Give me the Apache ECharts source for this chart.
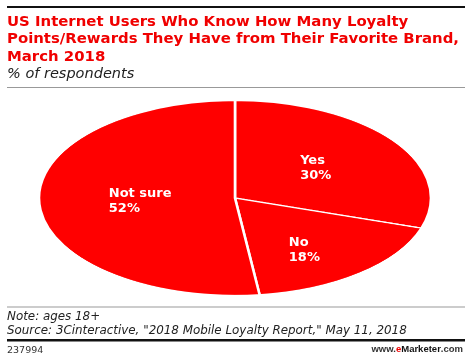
<!DOCTYPE html>
<html><head><meta charset="utf-8">
<script src="https://cdn.jsdelivr.net/npm/echarts@6/dist/echarts.min.js"></script>
<style>
html,body{margin:0;padding:0;background:#fff;}
#wrap{position:relative;width:470px;height:362px;overflow:hidden;background:#fff;}
#pie{position:absolute;left:0;top:0;width:470px;height:396px;transform-origin:235px 198px;transform:scaleY(0.4974);}
#main{position:absolute;left:0;top:0;width:470px;height:362px;}
</style></head><body>
<div id="wrap"><div id="pie"></div><div id="main"></div></div>
<script>
// ---- data ----
const categories = ['Yes', 'No', 'Not sure'];
const values = [30, 18, 52];
const titleLines = [
  'US Internet Users Who Know How Many Loyalty',
  'Points/Rewards They Have from Their Favorite Brand,',
  'March 2018'
];
const subtitle = '% of respondents';
const noteLines = [
  'Note: ages 18+',
  'Source: 3Cinteractive, "2018 Mobile Loyalty Report," May 11, 2018'
];
const chartId = '237994';

// ---- layout constants ----
const FONT = 'DejaVu Sans';
const LOGO_FONT = 'Liberation Sans';
const CX = 235, CY = 198, R = 196;
const SQUASH = 0.4974;
const labelNudge = [[-1, 0], [5, 13], [6, 0]];

const pieData = categories.map((c, i) => ({ name: c, value: values[i] }));

// Elliptical pie (circle squashed by CSS)
const pieChart = echarts.init(document.getElementById('pie'), null, { renderer: 'canvas' });
pieChart.setOption({
  animation: false,
  series: [{
    type: 'pie',
    center: [CX, CY],
    radius: [0, R],
    startAngle: 90,
    clockwise: true,
    silent: true,
    label: { show: false },
    labelLine: { show: false },
    itemStyle: { color: '#ff0000', borderColor: '#ffffff', borderWidth: 2.6 },
    data: pieData
  }]
});

// Texts, rules and slice labels
const main = echarts.init(document.getElementById('main'), null, { renderer: 'canvas' });
main.setOption({
  animation: false,
  title: [
    {
      text: titleLines.join('\n'), left: 7, top: 13, padding: 0,
      textStyle: { color: '#f00000', fontSize: 14.9, fontWeight: 'bold', lineHeight: 17.5, fontFamily: FONT }
    },
    {
      text: subtitle, left: 7, top: 67, padding: 0,
      textStyle: { color: '#222', fontSize: 14.5, fontWeight: 'normal', fontStyle: 'italic', lineHeight: 15, fontFamily: FONT }
    },
    {
      text: noteLines.join('\n'), left: 7, top: 310, padding: 0,
      textStyle: { color: '#222', fontSize: 11.9, fontWeight: 'normal', fontStyle: 'italic', lineHeight: 14, fontFamily: FONT }
    },
    {
      text: chartId, left: 7, top: 344.5, padding: 0,
      textStyle: { color: '#333', fontSize: 9.5, fontWeight: 'normal', lineHeight: 12, fontFamily: FONT }
    },
    {
      text: '{a|www.}{b|e}{c|Marketer}{a|.com}', right: 7, top: 343.5, padding: 0,
      textStyle: {
        fontFamily: LOGO_FONT, fontSize: 9.5, lineHeight: 12,
        rich: {
          a: { color: '#333', fontSize: 9.5, fontFamily: LOGO_FONT, lineHeight: 12 },
          b: { color: '#f00000', fontSize: 9.5, fontWeight: 'bold', fontFamily: LOGO_FONT, lineHeight: 12 },
          c: { color: '#111', fontSize: 9.5, fontWeight: 'bold', fontFamily: LOGO_FONT, lineHeight: 12 }
        }
      }
    }
  ],
  graphic: [
    { type: 'rect', silent: true, shape: { x: 7, y: 6, width: 458, height: 2 }, style: { fill: '#111' } },
    { type: 'rect', silent: true, shape: { x: 7, y: 87, width: 458, height: 1 }, style: { fill: '#999' } },
    { type: 'rect', silent: true, shape: { x: 7, y: 306.5, width: 458, height: 1 }, style: { fill: '#999' } },
    { type: 'rect', silent: true, shape: { x: 7, y: 339, width: 458, height: 2.5 }, style: { fill: '#111' } }
  ],
  series: [{
    type: 'pie',
    center: [CX, CY],
    radius: [0, R],
    startAngle: 90,
    clockwise: true,
    silent: true,
    avoidLabelOverlap: false,
    itemStyle: { color: 'rgba(0,0,0,0)' },
    label: {
      show: true,
      position: 'inside',
      formatter: '{b}\n{c}%',
      color: '#fff',
      fontWeight: 'bold',
      fontSize: 13,
      lineHeight: 15,
      fontFamily: FONT,
      align: 'left'
    },
    labelLine: { show: false },
    labelLayout: function (p) {
      const r = p.labelRect;
      const n = labelNudge[p.dataIndex] || [0, 0];
      return {
        x: r.x + n[0],
        y: CY + (r.y + r.height / 2 - CY) * SQUASH + n[1],
        align: 'left',
        verticalAlign: 'middle'
      };
    },
    data: pieData
  }]
});
</script>
</body></html>
